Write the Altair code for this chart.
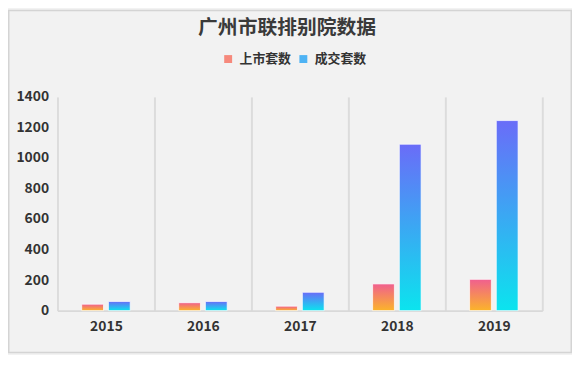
import altair as alt
import pandas as pd

years = ["2015", "2016", "2017", "2018", "2019"]
listed = [42, 52, 29, 175, 205]
deals = [60, 60, 120, 1090, 1245]
series_names = ["上市套数", "成交套数"]
y_ticks = [0, 200, 400, 600, 800, 1000, 1200, 1400]

FONT = "Noto Sans CJK SC"
PINK_TOP, PINK_BOT = "#f05f8f", "#fbb42a"
BLUE_TOP, BLUE_BOT = "#6a6cf8", "#0be4ee"

rows = []
for yr, a, b in zip(years, listed, deals):
    rows.append({"year": yr, "series": series_names[0], "value": a})
    rows.append({"year": yr, "series": series_names[1], "value": b})
df = pd.DataFrame(rows)

W, H = 490, 216
PAD = {"left": 50, "top": 88, "right": 30, "bottom": 43}


def grad(top, bot):
    return alt.LinearGradient(
        gradient="linear", x1=0, y1=0, x2=0, y2=1,
        stops=[alt.GradientStop(color=top, offset=0),
               alt.GradientStop(color=bot, offset=1)])


x_enc = alt.X("year:N", sort=years,
              scale=alt.Scale(paddingInner=0, paddingOuter=0),
              axis=alt.Axis(title=None, labelAngle=0, tickBand="extent",
                            grid=True, gridColor="#dcdcdc", gridWidth=2,
                            domainColor="#d9d9d9", domainWidth=2, ticks=False,
                            labelFont=FONT, labelFontSize=14, labelFontWeight="bold",
                            labelColor="#333333", labelPadding=9))
xo_enc = alt.XOffset("series:N", sort=series_names,
                     scale=alt.Scale(domain=series_names, paddingInner=0.185, paddingOuter=0.907))
y_enc = alt.Y("value:Q", scale=alt.Scale(domain=[0, 1400], nice=False),
              axis=alt.Axis(title=None, values=y_ticks, format="d", grid=False, domain=False,
                            ticks=False, labelFont=FONT, labelFontSize=14, labelFontWeight="bold",
                            labelColor="#333333", labelPadding=9))

base = alt.Chart(df)

bars_listed = base.transform_filter(alt.datum.series == series_names[0]).mark_bar(
    color=grad(PINK_TOP, PINK_BOT), stroke="#ffffff", strokeWidth=1, strokeOpacity=0.7
).encode(x=x_enc, xOffset=xo_enc, y=y_enc)

bars_deals = base.transform_filter(alt.datum.series == series_names[1]).mark_bar(
    color=grad(BLUE_TOP, BLUE_BOT), stroke="#ffffff", strokeWidth=1, strokeOpacity=0.7
).encode(x=x_enc, xOffset=xo_enc, y=y_enc)

frame = alt.Chart(alt.Data(values=[{"f": 1}])).mark_rect(
    fill="transparent", stroke="#d4d4d4", strokeWidth=1.5
).encode(x=alt.value(-PAD["left"] + 0.75), x2=alt.value(W + PAD["right"] - 0.75),
         y=alt.value(-PAD["top"] + 0.75), y2=alt.value(H + PAD["bottom"] - 0.75))

legend_layer = base.mark_square(opacity=0).encode(
    x=x_enc, xOffset=xo_enc, y=y_enc,
    color=alt.Color("series:N", sort=series_names,
                    scale=alt.Scale(domain=series_names, range=["#f6897c", "#4eb3f4"]),
                    legend=alt.Legend(title=None, orient="none", legendX=166, legendY=-45,
                                      direction="horizontal", symbolType="square", symbolSize=64,
                                      symbolOpacity=1, symbolStrokeWidth=0,
                                      labelFont=FONT, labelFontSize=13, labelFontWeight="bold",
                                      labelColor="#333333", labelOffset=5, columnPadding=5,
                                      padding=0)))

chart = alt.layer(frame, bars_listed, bars_deals, legend_layer).properties(
    width=W, height=H,
    autosize=alt.AutoSizeParams(type="none"),
    padding=PAD,
    title=alt.TitleParams("广州市联排别院数据", font=FONT, fontSize=20, fontWeight="bold",
                          color="#3a3a3a", anchor="middle", dx=-13, dy=46, offset=18),
).configure(background="#f2f2f2").configure_view(strokeWidth=0)

chart.save("out.html", embed_options={"renderer": "svg", "actions": False})
